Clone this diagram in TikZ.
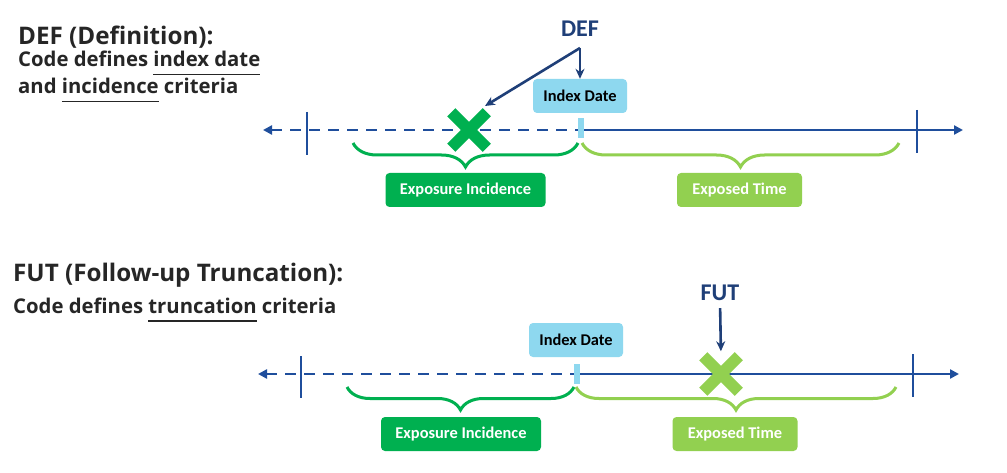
\documentclass[tikz,border=0pt]{standalone}
\usepackage{fontspec}
\setmainfont{Carlito}
\newfontfamily\headfont{Open Sans}
\usetikzlibrary{arrows.meta,decorations.pathreplacing,shapes.misc}
\definecolor{axisblue}{HTML}{1F4E9C}
\definecolor{navy}{HTML}{1F3F78}
\definecolor{idxblue}{HTML}{8ED8EF}
\definecolor{dkgreen}{HTML}{00B050}
\definecolor{ltgreen}{HTML}{92D050}
\definecolor{ink}{HTML}{262626}
\newcommand{\uln}[1]{\setbox0\hbox{#1}\rlap{\rule[-8.5pt]{\wd0}{1.4pt}}#1}
\tikzset{
every node/.style={inner sep=0pt},
title/.style={anchor=base west, text=ink, font=\headfont\bfseries\fontsize{24.2}{28}\selectfont},
subtitle/.style={anchor=base west, text=ink, font=\headfont\bfseries\fontsize{20.3}{24}\selectfont},
tag/.style={text=navy, font=\bfseries\fontsize{24}{26}\selectfont},
box/.style={rectangle, rounded corners=4pt, minimum height=34pt, font=\bfseries\fontsize{16.4}{18}\selectfont},
idxbox/.style={box, fill=idxblue, text=black, minimum width=94pt},
incbox/.style={box, fill=dkgreen, text=white, minimum width=160pt},
expbox/.style={box, fill=ltgreen, text=white, minimum width=125pt},
axis/.style={draw=axisblue, line width=2.6pt},
dashline/.style={dash pattern=on 11pt off 8pt},
axtip/.tip={Triangle[length=9pt,width=9pt]},
tick/.style={draw=axisblue, line width=2.2pt},
brc/.style={decorate, decoration={brace, mirror, amplitude=24pt}, line width=3pt},
xmark/.style={cross out, draw, line width=11.5pt, minimum size=24pt},
pointer/.style={draw=navy, line width=2.6pt, -{Stealth[length=10pt,width=9pt]}}
}
\begin{document}
\begin{tikzpicture}[x=1pt, y=-1pt]
\useasboundingbox[fill=white] (0,0) rectangle (1007,473);

\node[title] (t1) at (18,45) {DEF (Definition):};
\node[subtitle] (s1a) at (18,67) {Code defines \uln{index date}};
\node[subtitle] (s1b) at (18,94) {and \uln{incidence} criteria};

\coordinate (l1) at (263,130);
\coordinate (m1) at (580,130);
\coordinate (r1) at (963,130);
\draw[axis, dashline, axtip-] (l1) -- (m1);
\draw[axis, -axtip] (m1) -- (r1);
\draw[tick] (307,112) -- (307,155);
\draw[tick] (917,110) -- (917,153);
\fill[idxblue] (578,118) rectangle (584,138);

\node[xmark, dkgreen] (x1) at (469,130) {};
\node[idxbox] (i1) at (580,96) {Index Date};
\node[tag] (d1) at (580,29) {DEF};
\coordinate (d1s) at (580,48);
\coordinate (x1t) at (485,106);
\draw[pointer] (d1s) -- (i1.north);
\draw[pointer] (d1s) -- (x1t);

\draw[brc, dkgreen] (353,143) -- (578,143);
\draw[brc, ltgreen] (582,143) -- (899,143);
\node[incbox] (e1) at (465.5,190) {Exposure Incidence};
\node[expbox] (p1) at (739.5,190) {Exposed Time};

\node[title] (t2) at (13,282) {FUT (Follow-up Truncation):};
\node[subtitle] (s2) at (13,313) {Code defines \uln{truncation} criteria};

\coordinate (l2) at (258,374);
\coordinate (m2) at (577,374);
\coordinate (r2) at (959,374);
\draw[axis, dashline, axtip-] (l2) -- (m2);
\draw[axis, -axtip] (m2) -- (r2);
\draw[tick] (301,356) -- (301,398);
\draw[tick] (913,354) -- (913,397);
\fill[idxblue] (574,364) rectangle (580,384);

\node[xmark, ltgreen] (x2) at (721,374) {};
\node[idxbox] (i2) at (576,340) {Index Date};
\node[tag] (f2) at (720,293) {FUT};
\draw[pointer, shorten <=7pt, shorten >=5pt] (f2.south) -- (x2.north);

\draw[brc, dkgreen, decoration={amplitude=23pt}] (347,387) -- (574,387);
\draw[brc, ltgreen, decoration={amplitude=23pt}] (576,387) -- (896,387);
\node[incbox] (e2) at (461,434) {Exposure Incidence};
\node[expbox] (p2) at (735,434) {Exposed Time};

\end{tikzpicture}
\end{document}
